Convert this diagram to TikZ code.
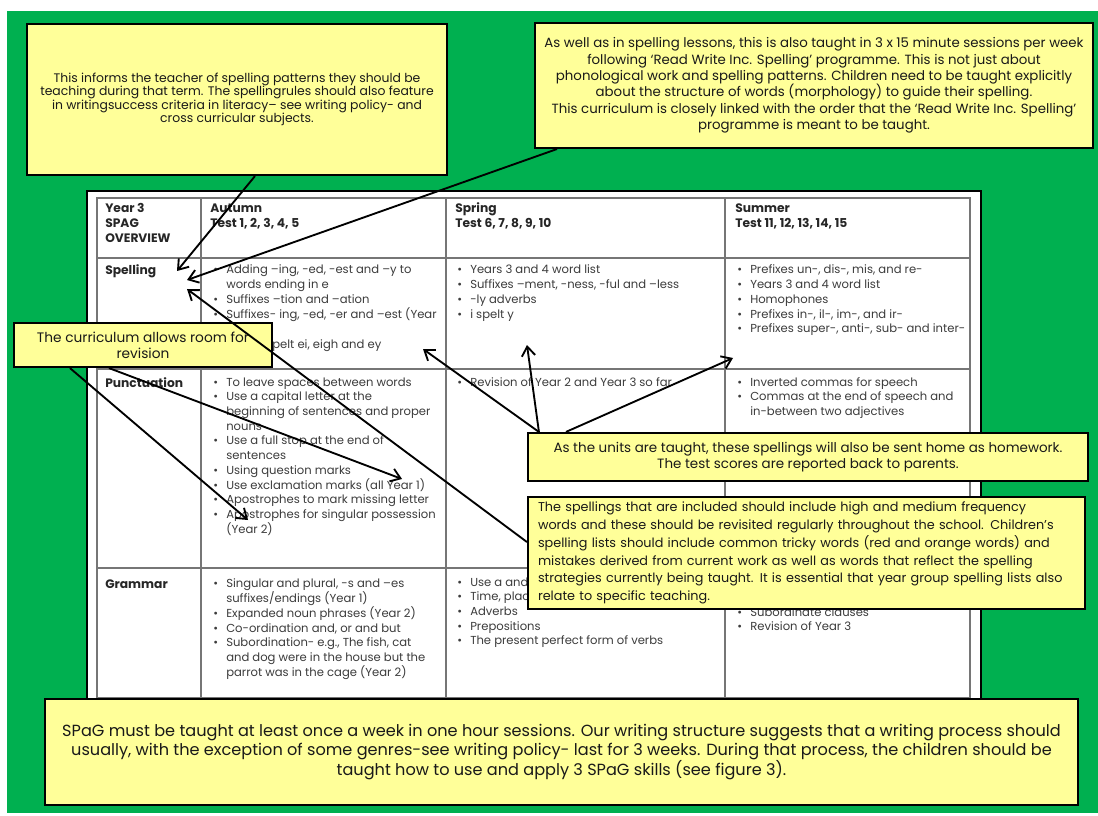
\documentclass[tikz,border=0pt]{standalone}
\usepackage{fontspec}
\setmainfont{Poppins}
\usetikzlibrary{calc,arrows.meta}
\definecolor{bggreen}{HTML}{00B050}
\definecolor{notefill}{HTML}{FFFF99}
\definecolor{gridgray}{HTML}{767676}
\definecolor{bodygray}{HTML}{3C3C3C}
\newcommand{\cellrows}[1]{\begin{tabular}[t]{@{}l@{}}#1\end{tabular}}
\newcommand{\bu}{\makebox[9.75pt][l]{\textbullet}}
\newcommand{\hg}{\hspace*{9.75pt}}

\begin{document}
\begin{tikzpicture}[x=0.75pt,y=-0.75pt,
    note/.style={draw=black,line width=1.6pt,fill=notefill,inner sep=0pt,align=center,text=black!90},
    cellhead/.style={anchor=base west,inner sep=0pt,font=\fontsize{9.2}{11.2}\selectfont\bfseries,text=black!85},
    cellbody/.style={anchor=base west,inner sep=0pt,font=\fontsize{8.7}{11}\selectfont,text=bodygray},
    pointer/.style={line width=1.4pt,-{Straight Barb[length=7pt,width=10pt]}}]
    \useasboundingbox (0,0) rectangle (1098,816);
    \fill[white] (0,0) rectangle (1098,816);
    \fill[bggreen] (7,11) rectangle (1098,813);

    \draw[line width=2.2pt,fill=white] (87,191) rectangle (981,699);
    \draw[gridgray,line width=1pt] (97,198) rectangle (970,698);
    \draw[gridgray,line width=1pt] (201,198) -- (201,698) (446,198) -- (446,698) (725,198) -- (725,698);
    \draw[gridgray,line width=1pt] (97,258) -- (970,258) (97,369) -- (970,369) (97,568) -- (970,568);

    \node[cellhead] (yearHd) at (105,213) {\cellrows{Year 3\\SPAG\\OVERVIEW}};
    \node[cellhead] (autumnHd) at (210,213) {\cellrows{Autumn\\Test 1, 2, 3, 4, 5}};
    \node[cellhead] (springHd) at (455,213) {\cellrows{Spring\\Test 6, 7, 8, 9, 10}};
    \node[cellhead] (summerHd) at (735,213) {\cellrows{Summer\\Test 11, 12, 13, 14, 15}};

    \node[cellhead] (spellHd) at (105,275) {Spelling};
    \node[cellhead] (punctHd) at (105,387) {Punctuation};
    \node[cellhead] (gramHd) at (105,588) {Grammar};

    \node[cellbody] (spellAut) at (213,274) {\cellrows{\bu Adding –ing, -ed, -est and –y to\\
        \hg words ending in e\\
        \bu Suffixes –tion and –ation\\
        \bu Suffixes- ing, -ed, -er and –est (Year\\
        \hg 1)\\
        \bu Sound spelt ei, eigh and ey}};
    \node[cellbody] (spellSpr) at (457,274) {\cellrows{\bu Years 3 and 4 word list\\
        \bu Suffixes –ment, -ness, -ful and –less\\
        \bu -ly adverbs\\
        \bu i spelt y}};
    \node[cellbody] (spellSum) at (737,274) {\cellrows{\bu Prefixes un-, dis-, mis, and re-\\
        \bu Years 3 and 4 word list\\
        \bu Homophones\\
        \bu Prefixes in-, il-, im-, and ir-\\
        \bu Prefixes super-, anti-, sub- and inter-}};

    \node[cellbody] (punctAut) at (213,386) {\cellrows{\bu To leave spaces between words\\
        \bu Use a capital letter at the\\
        \hg beginning of sentences and proper\\
        \hg nouns\\
        \bu Use a full stop at the end of\\
        \hg sentences\\
        \bu Using question marks\\
        \bu Use exclamation marks (all Year 1)\\
        \bu Apostrophes to mark missing letter\\
        \bu Apostrophes for singular possession\\
        \hg (Year 2)}};
    \node[cellbody] (punctSpr) at (457,386) {\cellrows{\bu Revision of Year 2 and Year 3 so far}};
    \node[cellbody] (punctSum) at (737,386) {\cellrows{\bu Inverted commas for speech\\
        \bu Commas at the end of speech and\\
        \hg in-between two adjectives}};

    \node[cellbody] (gramAut) at (213,587) {\cellrows{\bu Singular and plural, -s and –es\\
        \hg suffixes/endings (Year 1)\\
        \bu Expanded noun phrases (Year 2)\\
        \bu Co-ordination and, or and but\\
        \bu Subordination- e.g., The fish, cat\\
        \hg and dog were in the house but the\\
        \hg parrot was in the cage (Year 2)}};
    \node[cellbody] (gramSpr) at (457,586) {\cellrows{\bu Use a and an\\
        \bu Time, place and cause\\
        \bu Adverbs\\
        \bu Prepositions\\
        \bu The present perfect form of verbs}};
    \node[cellbody] (gramSum) at (737,616) {\cellrows{\bu Subordinate clauses\\
        \bu Revision of Year 3}};

    \node[note,minimum width=315pt,minimum height=113.25pt,font=\fontsize{9.3}{10.1}\selectfont] (infoBox) at (237,99.5)
        {This informs the teacher of spelling patterns they should be\\
        teaching during that term. The spellingrules should also feature\\
        in writingsuccess criteria in literacy– see writing policy- and\\
        cross curricular subjects.};
    \node[note,minimum width=418.5pt,minimum height=93.75pt,font=\fontsize{10}{12.3}\selectfont] (rwiBox) at (814,85.5)
        {As well as in spelling lessons, this is also taught in 3 x 15 minute sessions per week\\
        following ‘Read Write Inc. Spelling’ programme. This is not just about\\
        phonological work and spelling patterns. Children need to be taught explicitly\\
        about the structure of words (morphology) to guide their spelling.\\
        This curriculum is closely linked with the  order that the ‘Read Write Inc. Spelling’\\
        programme is meant to be taught.};
    \node[note,minimum width=193.5pt,minimum height=33pt,font=\fontsize{10.3}{12}\selectfont] (revBox) at (143,345)
        {The curriculum  allows room for\\revision};
    \node[note,minimum width=420pt,minimum height=36pt,font=\fontsize{10.1}{12}\selectfont] (homeBox) at (808,457)
        {As the units are taught, these spellings will also be sent home as homework.\\
        The test scores are reported back to parents.};
    \node[note,minimum width=417.75pt,minimum height=84pt,text width=402.75pt,align=left,inner xsep=7.5pt,
        font=\fontsize{9.6}{13.3}\selectfont] (listBox) at (806.5,553)
        {The spellings that are included should include high and medium frequency\\
        words and these should be revisited regularly throughout the school. Children’s\\
        spelling lists should include common tricky words (red and orange words) and\\
        mistakes derived from current work as well as words that reflect the spelling\\
        strategies currently being taught. It is essential that year group spelling lists also\\
        relate to specific teaching.};
    \node[note,minimum width=774.75pt,minimum height=79.5pt,font=\fontsize{12.1}{14.6}\selectfont] (spagBox) at (561.5,752)
        {SPaG must be taught at least once a week in one hour sessions. Our writing structure suggests that a writing process should\\
        usually, with the exception of some genres-see writing policy- last for 3 weeks. During that process, the children should be\\
        taught how to use and apply 3 SPaG skills (see figure 3).};

    \coordinate (tipSpellA) at (177,271);
    \coordinate (tipSpellB) at (187,280);
    \coordinate (tipSpellC) at (187,289);
    \coordinate (tipAut) at (423,349);
    \coordinate (tipSpr) at (527,345);
    \coordinate (tipSum) at (733,358);
    \coordinate (tipExcl) at (402,479);
    \coordinate (tipPoss) at (248,520);

    \draw[pointer] ($(infoBox.south)+(18,0)$) -- (tipSpellA);
    \draw[pointer] ($(rwiBox.south west)+(23,0)$) -- (tipSpellB);
    \draw[pointer] ($(listBox.west)+(0,-11)$) -- (tipSpellC);
    \draw[pointer] ($(homeBox.north west)+(12,0)$) -- (tipAut);
    \draw[pointer] ($(homeBox.north west)+(12,0)$) -- (tipSpr);
    \draw[pointer] ($(homeBox.north west)+(39,0)$) -- (tipSum);
    \draw[pointer] ($(revBox.south west)+(96,0)$) -- (tipExcl);
    \draw[pointer] ($(revBox.south west)+(57,0)$) -- (tipPoss);
\end{tikzpicture}
\end{document}
